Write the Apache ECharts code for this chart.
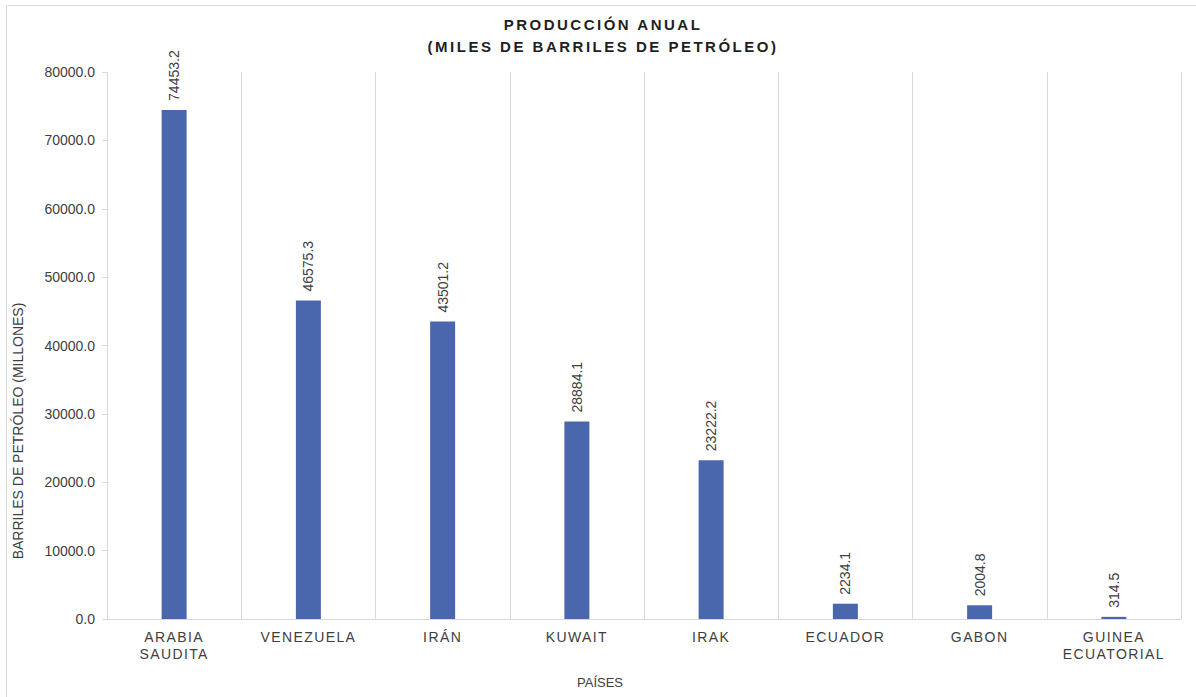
<!DOCTYPE html>
<html><head><meta charset="utf-8">
<script src="https://cdn.jsdelivr.net/npm/echarts@6/dist/echarts.min.js"></script>
<style>
html,body{margin:0;padding:0;background:#fff}#c{width:1196px;height:697px}
#c text[style*="bold"]{letter-spacing:2.5px}
#c text[style*="14.01px"]{letter-spacing:1.4px}
</style>
</head><body><div id="c"></div>
<script>
const categories = ['ARABIA\nSAUDITA','VENEZUELA','IRÁN','KUWAIT','IRAK','ECUADOR','GABON','GUINEA\nECUATORIAL'];
const values = [74453.2, 46575.3, 43501.2, 28884.1, 23222.2, 2234.1, 2004.8, 314.5];
const titleText = 'PRODUCCIÓN ANUAL\n(MILES DE BARRILES DE PETRÓLEO)';
const yAxisTitle = 'BARRILES DE PETRÓLEO (MILLONES)';
const xAxisTitle = 'PAÍSES';

const FF = '"Liberation Sans", Arial, sans-serif';
const chart = echarts.init(document.getElementById('c'), null, {renderer: 'svg'});
chart.setOption({
  animation: false,
  textStyle: {fontFamily: FF},
  title: {
    text: titleText, left: 598, top: 8, textAlign: 'center',
    textStyle: {fontSize: 15, fontWeight: 'bold', color: '#1f1f1f', lineHeight: 22, fontFamily: FF}
  },
  graphic: [
    {type: 'rect', silent: true, shape: {x: 6.5, y: 5.5, width: 1200, height: 700}, style: {fill: 'none', stroke: '#d9d9d9', lineWidth: 1}},
    {type: 'text', x: 18, y: 431, rotation: Math.PI / 2, style: {text: yAxisTitle, fill: '#404040', font: '14px ' + FF, textAlign: 'center', textVerticalAlign: 'middle'}},
    {type: 'text', x: 600, y: 682, style: {text: xAxisTitle, fill: '#404040', font: '13px ' + FF, textAlign: 'center', textVerticalAlign: 'middle'}}
  ],
  grid: {left: 107, right: 15, top: 72, bottom: 78, containLabel: false},
  xAxis: {
    type: 'category', data: categories,
    axisLine: {lineStyle: {color: '#d9d9d9'}},
    axisTick: {show: false},
    splitLine: {show: true, lineStyle: {color: '#d9d9d9'}},
    axisLabel: {color: '#404040', fontSize: 14.01, lineHeight: 16.5, margin: 10, interval: 0}
  },
  yAxis: {
    type: 'value', min: 0, max: 80000, interval: 10000,
    axisLine: {show: false},
    axisTick: {show: true, length: 5, lineStyle: {color: '#d9d9d9'}},
    splitLine: {show: false},
    axisLabel: {color: '#404040', fontSize: 14, margin: 12, formatter: v => v.toFixed(1)}
  },
  series: [{
    type: 'bar', data: values, barWidth: 25,
    itemStyle: {color: '#4a66ac'},
    label: {show: true, position: 'top', rotate: 90, align: 'left', verticalAlign: 'middle', distance: 9,
      color: '#404040', fontSize: 14, formatter: p => p.value.toFixed(1)}
  }]
});
</script></body></html>
